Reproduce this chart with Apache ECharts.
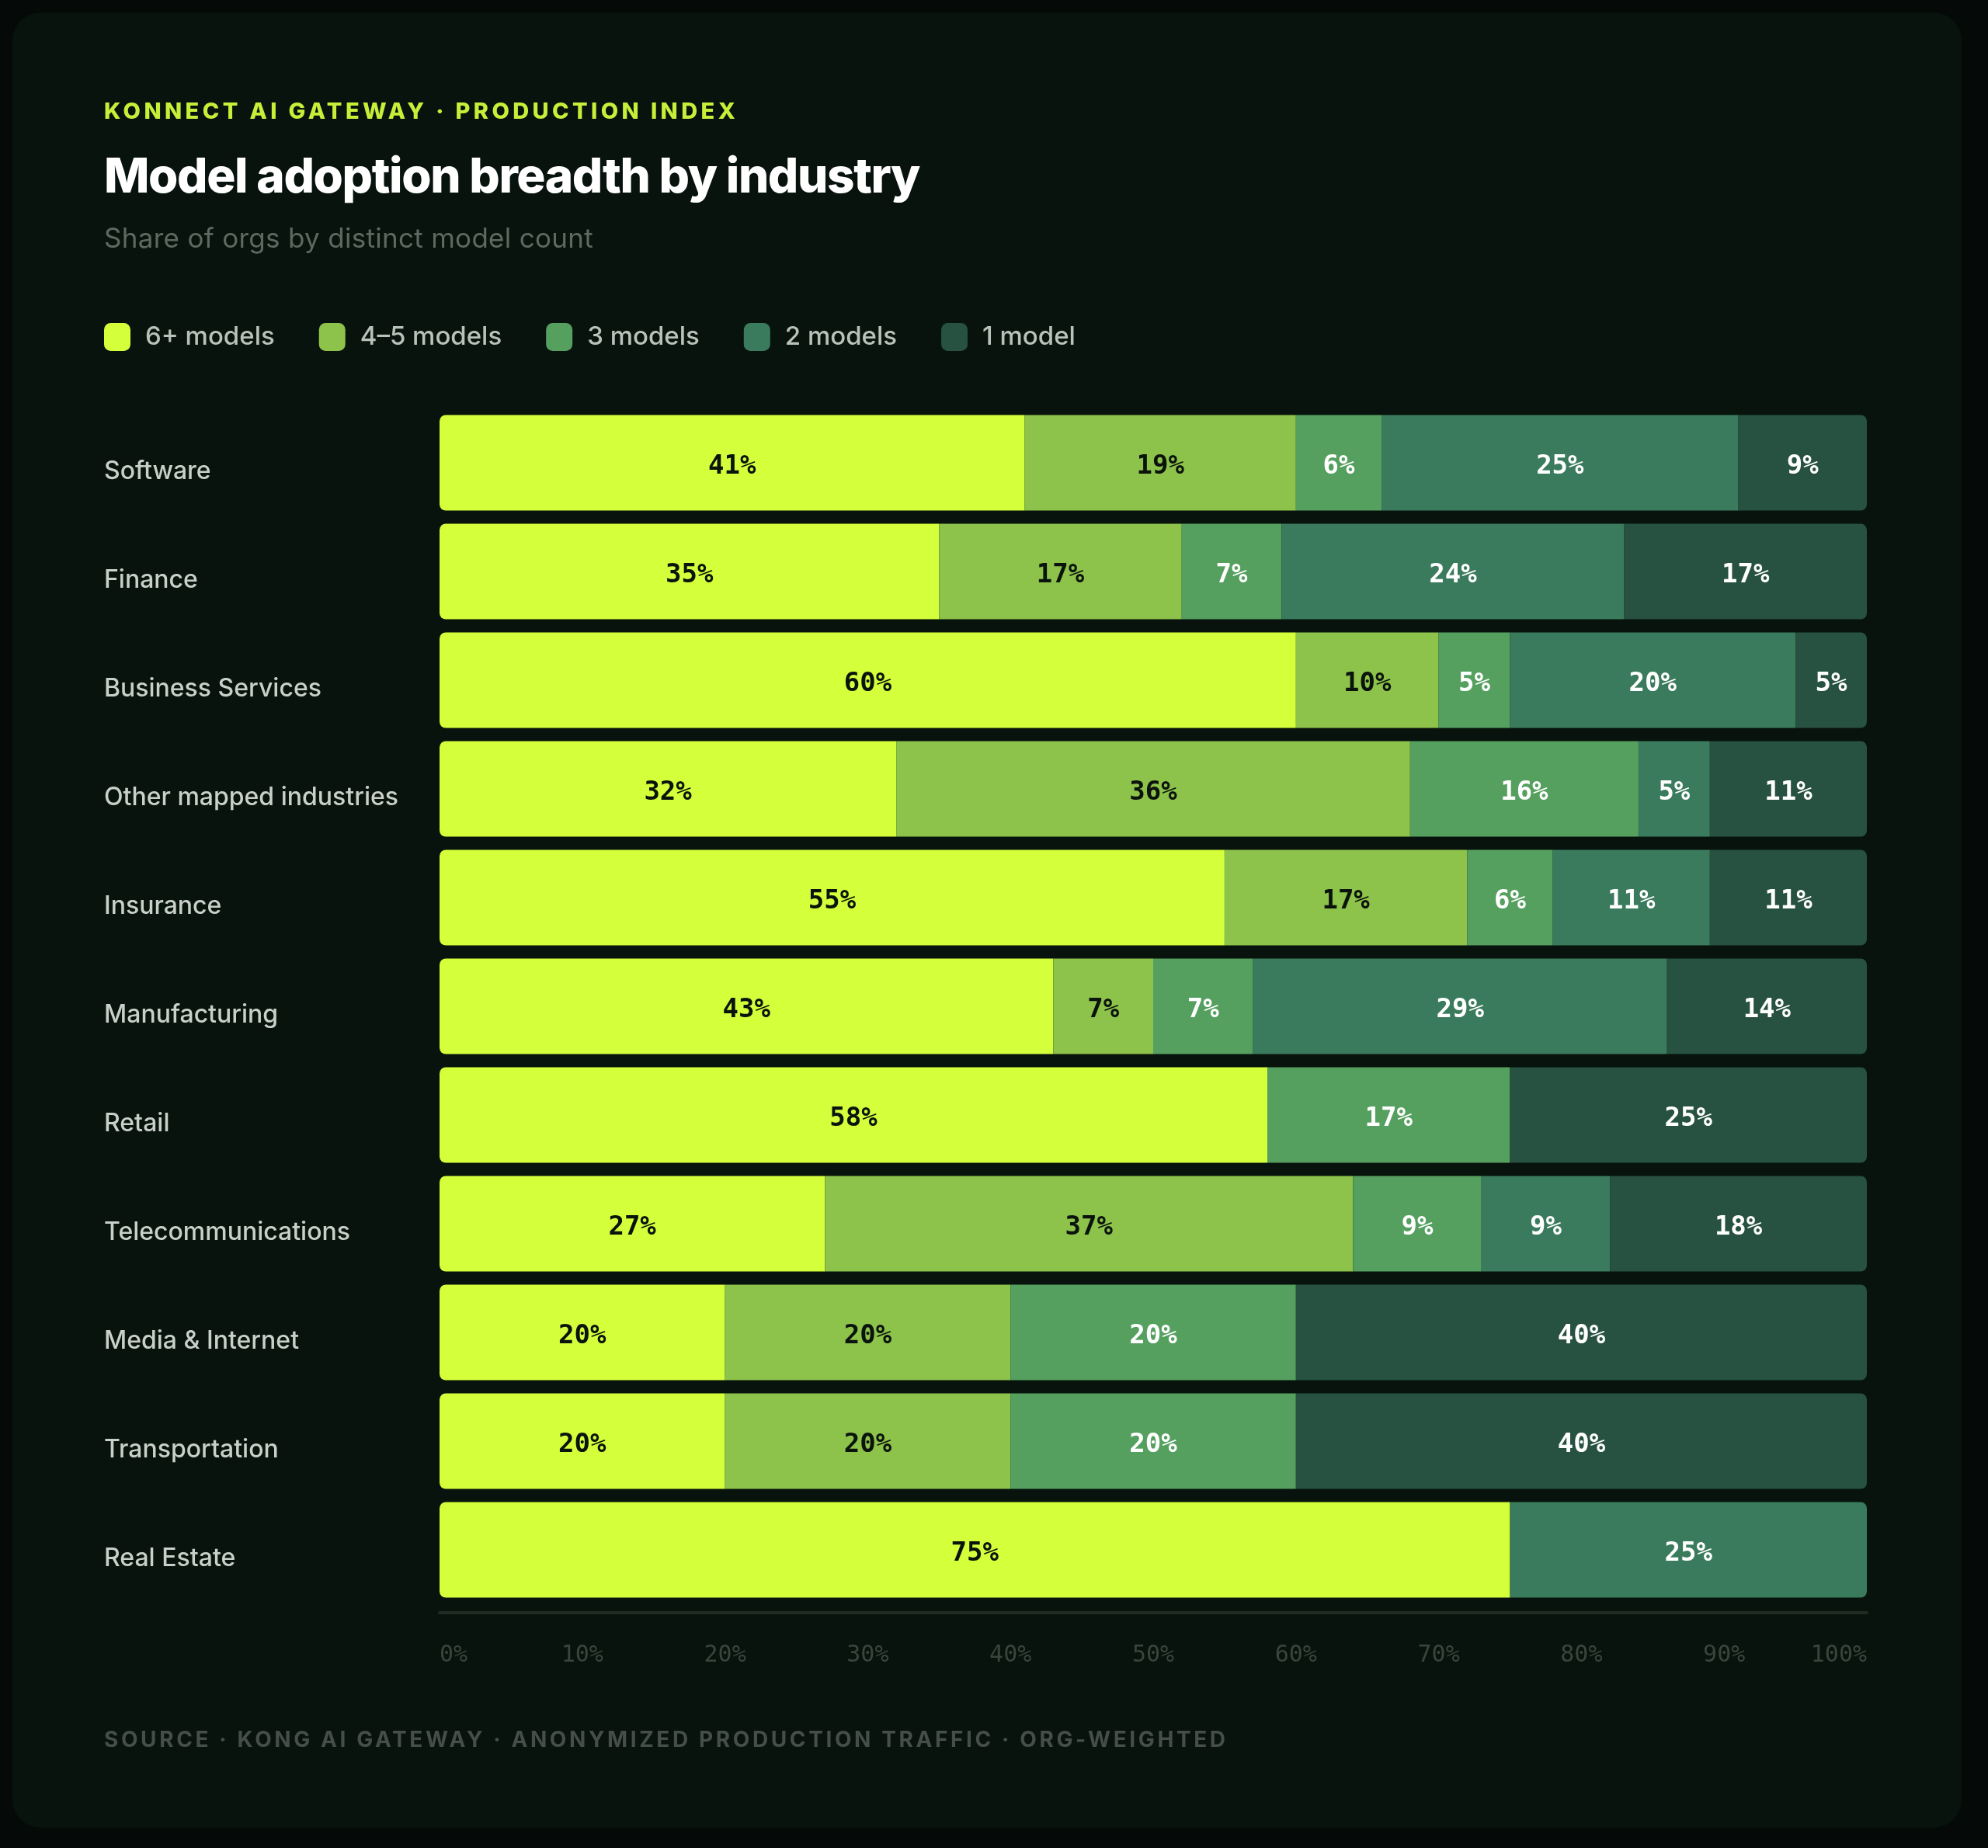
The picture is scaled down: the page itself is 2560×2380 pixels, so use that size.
<!DOCTYPE html>
<html>
<head>
<meta charset="utf-8">
<title>Model adoption breadth by industry</title>
<script src="https://cdn.jsdelivr.net/npm/echarts@6/dist/echarts.min.js"></script>
<style>
  html, body { margin: 0; padding: 0; background: #050907; }
  #card {
    position: absolute; left: 16px; top: 16px; width: 2510px; height: 2338px;
    border-radius: 36px; background: #07130c;
  }
  #chart { position: absolute; left: 0; top: 0; width: 2560px; height: 2380px; }
  .txt { position: absolute; left: 134px; line-height: 1; white-space: nowrap; font-family: Inter, "Noto Sans", sans-serif; }
  #eyebrow { top: 128px; font-size: 29px; font-weight: 800; letter-spacing: 4.4px; color: #c6ef3a; }
  #title { top: 195px; font-size: 62px; font-weight: 800; letter-spacing: -1.4px; color: #ffffff; }
  #subtitle { top: 289px; font-size: 35px; font-weight: 400; letter-spacing: 0.3px; color: #5e6961; }
  #footer { top: 2226px; font-size: 28px; font-weight: 700; letter-spacing: 3.6px; color: #454e48; }
</style>
</head>
<body>
<div id="card"></div>
<div id="chart"></div>
<div class="txt" id="eyebrow">KONNECT AI GATEWAY · PRODUCTION INDEX</div>
<div class="txt" id="title">Model adoption breadth by industry</div>
<div class="txt" id="subtitle">Share of orgs by distinct model count</div>
<div class="txt" id="footer">SOURCE · KONG AI GATEWAY · ANONYMIZED PRODUCTION TRAFFIC · ORG-WEIGHTED</div>
<script>
// industries, top to bottom
var categories = ['Software', 'Finance', 'Business Services', 'Other mapped industries', 'Insurance',
  'Manufacturing', 'Retail', 'Telecommunications', 'Media & Internet', 'Transportation', 'Real Estate'];
var seriesNames = ['6+ models', '4–5 models', '3 models', '2 models', '1 model'];
var colors = ['#d3ff3b', '#8dc24b', '#55a05f', '#3b7b5d', '#275141'];

// share of orgs (%)
var sixPlus  = [41, 35, 60, 32, 55, 43, 58, 27, 20, 20, 75];
var fourFive = [19, 17, 10, 36, 17,  7,  0, 37, 20, 20,  0];
var three    = [ 6,  7,  5, 16,  6,  7, 17,  9, 20, 20,  0];
var two      = [25, 24, 20,  5, 11, 29,  0,  9,  0,  0, 25];
var one      = [ 9, 17,  5, 11, 11, 14, 25, 18, 40, 40,  0];
var xTicks = [0, 10, 20, 30, 40, 50, 60, 70, 80, 90, 100];

var values = [sixPlus, fourFive, three, two, one];
var labelColors = ['#0b130d', '#0b130d', '#ffffff', '#ffffff', '#ffffff'];
var R = 8;

var chart = echarts.init(document.getElementById('chart'));

// round only the outer ends of each row
function rowData(s) {
  return values[s].map(function (v, i) {
    var first = -1, last = -1;
    for (var k = 0; k < values.length; k++) {
      if (values[k][i] > 0) { if (first < 0) first = k; last = k; }
    }
    var rad = [0, 0, 0, 0];
    if (s === first) { rad[0] = R; rad[3] = R; }
    if (s === last) { rad[1] = R; rad[2] = R; }
    return { value: v, itemStyle: { borderRadius: rad } };
  });
}

var series = seriesNames.map(function (name, s) {
  return {
    name: name,
    type: 'bar',
    stack: 'share',
    barCategoryGap: '12.1%',
    data: rowData(s),
    itemStyle: { color: colors[s] },
    label: {
      show: true,
      position: 'inside',
      offset: [0, 5],
      color: labelColors[s],
      fontFamily: '"DejaVu Sans Mono", monospace',
      fontWeight: 'bold',
      fontSize: 34,
      formatter: function (p) { return p.value > 0 ? p.value + '%' : ''; }
    },
    emphasis: { disabled: true }
  };
});

var option = {
  backgroundColor: 'transparent',
  animation: false,
  legend: {
    data: seriesNames,
    left: 134,
    top: 416,
    padding: 0,
    itemWidth: 34,
    itemHeight: 36,
    itemGap: 57,
    icon: 'roundRect',
    textStyle: {
      color: '#b9c1ba',
      fontFamily: 'Inter, sans-serif',
      fontWeight: 500,
      fontSize: 33,
      padding: [0, 0, 0, 14]
    }
  },
  grid: { left: 566, right: 156, top: 526, bottom: 314, containLabel: false },
  xAxis: {
    type: 'value',
    min: xTicks[0],
    max: xTicks[xTicks.length - 1],
    interval: xTicks[1] - xTicks[0],
    offset: 11,
    axisLine: { show: true, lineStyle: { color: '#1f2b23', width: 4 } },
    axisTick: { show: false },
    splitLine: { show: false },
    axisLabel: {
      margin: 40,
      color: '#3a453d',
      fontFamily: '"DejaVu Sans Mono", monospace',
      fontSize: 30,
      alignMinLabel: 'left',
      alignMaxLabel: 'right',
      formatter: '{value}%'
    }
  },
  yAxis: {
    type: 'category',
    inverse: true,
    data: categories,
    axisLine: { show: false },
    axisTick: { show: false },
    axisLabel: {
      align: 'left',
      verticalAlign: 'top',
      lineHeight: 22,
      margin: 432,
      color: '#c9cfc9',
      fontFamily: 'Inter, sans-serif',
      fontWeight: 500,
      fontSize: 32
    }
  },
  series: series
};

chart.setOption(option);
</script>
</body>
</html>
